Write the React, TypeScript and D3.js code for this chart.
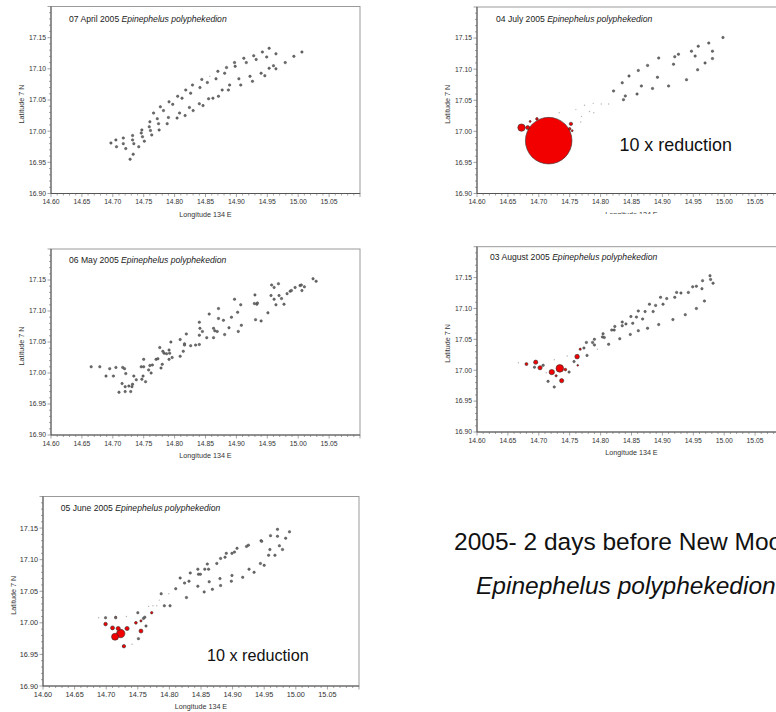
import React from 'react';
import * as d3 from 'd3';

type Pt = [number, number, number | null];

// ---------- data ----------
const lonTicks = [14.6, 14.65, 14.7, 14.75, 14.8, 14.85, 14.9, 14.95, 15.0, 15.05];
const latTicks = [16.9, 16.95, 17.0, 17.05, 17.1, 17.15];
const lonDomain: [number, number] = [14.6, 15.1];
const latDomain: [number, number] = [16.9, 17.2];
const species = 'Epinephelus polyphekedion';
const panelDates = ['07 April 2005', '06 May 2005', '05 June 2005', '04 July 2005', '03 August 2005'];
const panelReductions = [1, 1, 10, 10, 1];
const xAxisTitle = 'Longitude 134 E';
const yAxisTitle = 'Latitude 7 N';
const reductionNote = '10 x reduction';
const captionLine1 = '2005- 2 days before New Moon';
const captionLine2 = 'Epinephelus polyphekedion';

// [longitude, latitude, catch value (0 = none, null = not fished)]
const aprilPoints: Pt[] = [
  [14.697, 16.981, 0], [14.705, 16.986, 0], [14.706, 16.975, 0], [14.717, 16.989, 0], [14.717, 16.98, 0],
  [14.721, 16.972, 0], [14.732, 16.993, 0], [14.732, 16.986, 0], [14.734, 16.98, 0], [14.728, 16.955, 0],
  [14.733, 16.963, 0], [14.742, 16.975, 0], [14.746, 16.997, 0], [14.747, 17.002, 0], [14.748, 16.991, 0],
  [14.751, 16.984, 0], [14.759, 17.007, 0], [14.76, 17.015, 0], [14.761, 17.001, 0], [14.763, 16.994, 0],
  [14.766, 17.029, 0], [14.772, 17.02, 0], [14.774, 17.012, 0], [14.775, 17.002, 0], [14.777, 17.039, 0],
  [14.782, 17.033, 0], [14.788, 17.012, 0], [14.79, 17.022, 0], [14.791, 17.047, 0], [14.797, 17.043, 0],
  [14.804, 17.021, 0], [14.805, 17.056, 0], [14.808, 17.029, 0], [14.812, 17.053, 0], [14.817, 17.025, 0],
  [14.818, 17.066, 0], [14.824, 17.038, 0], [14.826, 17.061, 0], [14.829, 17.074, 0], [14.83, 17.033, 0],
  [14.84, 17.044, 0], [14.841, 17.07, 0], [14.844, 17.083, 0], [14.846, 17.041, 0], [14.853, 17.078, 0],
  [14.855, 17.052, 0], [14.862, 17.053, 0], [14.867, 17.084, 0], [14.87, 17.096, 0], [14.871, 17.056, 0],
  [14.877, 17.066, 0], [14.881, 17.093, 0], [14.884, 17.102, 0], [14.887, 17.066, 0], [14.889, 17.074, 0],
  [14.897, 17.11, 0], [14.898, 17.104, 0], [14.904, 17.084, 0], [14.907, 17.074, 0], [14.912, 17.117, 0],
  [14.916, 17.11, 0], [14.922, 17.088, 0], [14.926, 17.08, 0], [14.928, 17.121, 0], [14.932, 17.115, 0],
  [14.94, 17.093, 0], [14.942, 17.127, 0], [14.946, 17.089, 0], [14.949, 17.119, 0], [14.953, 17.133, 0],
  [14.953, 17.101, 0], [14.96, 17.105, 0], [14.964, 17.1, 0], [14.964, 17.124, 0], [14.979, 17.11, 0],
  [14.993, 17.12, 0], [15.006, 17.127, 0], [14.857, 17.088, null],
];

const mayPoints: Pt[] = [
  [14.665, 17.01, 0], [14.679, 17.01, 0], [14.689, 16.995, 0], [14.695, 17.007, 0], [14.701, 16.995, 0],
  [14.705, 17.009, 0], [14.716, 17.009, 0], [14.719, 17.007, 0], [14.721, 16.999, 0], [14.715, 16.983, 0],
  [14.72, 16.978, 0], [14.726, 16.979, 0], [14.732, 16.982, 0], [14.731, 16.978, 0], [14.71, 16.969, 0],
  [14.72, 16.97, 0], [14.729, 16.97, 0], [14.734, 16.995, 0], [14.738, 16.989, 0], [14.747, 16.99, 0],
  [14.749, 16.995, 0], [14.753, 16.986, 0], [14.746, 17.01, 0], [14.75, 17.01, 0], [14.75, 17.022, 0],
  [14.758, 17.005, 0], [14.76, 17.012, 0], [14.762, 17.0, 0], [14.764, 17.013, 0], [14.77, 17.022, 0],
  [14.773, 17.023, 0], [14.778, 17.008, 0], [14.78, 17.014, 0], [14.776, 17.041, 0], [14.781, 17.035, 0],
  [14.783, 17.032, 0], [14.787, 17.031, 0], [14.791, 17.037, 0], [14.791, 17.022, 0], [14.792, 17.032, 0],
  [14.796, 17.025, 0], [14.794, 17.05, 0], [14.809, 17.054, 0], [14.809, 17.027, 0], [14.814, 17.035, 0],
  [14.816, 17.047, 0], [14.816, 17.045, 0], [14.819, 17.063, 0], [14.826, 17.044, 0], [14.834, 17.045, 0],
  [14.84, 17.046, 0], [14.84, 17.061, 0], [14.841, 17.072, 0], [14.84, 17.082, 0], [14.845, 17.067, 0],
  [14.852, 17.057, 0], [14.856, 17.095, 0], [14.863, 17.072, 0], [14.863, 17.057, 0], [14.865, 17.068, 0],
  [14.869, 17.067, 0], [14.871, 17.104, 0], [14.871, 17.088, 0], [14.879, 17.085, 0], [14.881, 17.062, 0],
  [14.888, 17.073, 0], [14.892, 17.09, 0], [14.897, 17.119, 0], [14.902, 17.098, 0], [14.903, 17.067, 0],
  [14.907, 17.11, 0], [14.908, 17.077, 0], [14.93, 17.126, 0], [14.929, 17.112, 0], [14.933, 17.111, 0],
  [14.934, 17.113, 0], [14.931, 17.086, 0], [14.94, 17.084, 0], [14.951, 17.097, 0], [14.956, 17.125, 0],
  [14.957, 17.142, 0], [14.961, 17.138, 0], [14.961, 17.119, 0], [14.964, 17.11, 0], [14.968, 17.144, 0],
  [14.969, 17.125, 0], [14.973, 17.12, 0], [14.977, 17.111, 0], [14.982, 17.128, 0], [14.987, 17.132, 0],
  [14.989, 17.133, 0], [14.995, 17.138, 0], [15.003, 17.141, 0], [15.006, 17.133, 0], [15.005, 17.142, 0],
  [15.01, 17.139, 0], [15.024, 17.152, 0], [15.029, 17.148, 0],
];

const junePoints: Pt[] = [
  [14.971, 17.148, 0], [14.99, 17.144, 0], [14.96, 17.138, 0], [14.971, 17.137, 0], [14.984, 17.134, 0],
  [14.945, 17.13, 0], [14.946, 17.129, 0], [14.925, 17.123, 0], [14.922, 17.121, 0], [14.907, 17.118, 0],
  [14.903, 17.112, 0], [14.89, 17.11, 0], [14.899, 17.11, 0], [14.888, 17.104, 0], [14.881, 17.102, 0],
  [14.875, 17.094, 0], [14.86, 17.093, 0], [14.856, 17.085, 0], [14.862, 17.085, 0], [14.845, 17.085, 0],
  [14.833, 17.079, 0], [14.846, 17.077, 0], [14.849, 17.077, 0], [14.817, 17.071, 0], [14.831, 17.066, 0],
  [14.824, 17.063, 0], [14.81, 17.054, 0], [14.787, 17.046, 0], [14.827, 17.04, 0], [14.792, 17.027, 0],
  [14.801, 17.027, 0], [14.974, 17.122, 0], [14.979, 17.116, 0], [14.959, 17.116, 0], [14.967, 17.107, 0],
  [14.957, 17.107, 0], [14.944, 17.094, 0], [14.95, 17.091, 0], [14.926, 17.085, 0], [14.934, 17.08, 0],
  [14.899, 17.075, 0], [14.916, 17.072, 0], [14.898, 17.066, 0], [14.88, 17.07, 0], [14.863, 17.065, 0],
  [14.881, 17.059, 0], [14.845, 17.058, 0], [14.868, 17.053, 0], [14.855, 17.049, 0],
  [14.699, 17.008, 0], [14.715, 17.008, 0], [14.75, 17.016, 0], [14.759, 17.007, 0], [14.763, 16.995, 0],
  [14.751, 16.975, 0], [14.761, 17.009, 0],
  [14.688, 17.008, null], [14.732, 17.01, null], [14.767, 17.026, null], [14.774, 17.027, null],
  [14.78, 17.027, null], [14.784, 17.036, null], [14.799, 17.046, null], [14.741, 16.966, null],
  [14.699, 16.998, 130], [14.71, 16.992, 160], [14.719, 16.991, 176], [14.733, 16.991, 176],
  [14.714, 16.978, 490], [14.723, 16.983, 706], [14.728, 16.963, 116], [14.755, 16.987, 160],
  [14.747, 17.0, 78], [14.755, 17.003, 48], [14.772, 17.016, 58], [14.715, 17.009, 40],
];

const julyPoints: Pt[] = [
  [14.998, 17.151, 0], [14.975, 17.142, 0], [14.958, 17.137, 0], [14.947, 17.129, 0], [14.981, 17.129, 0],
  [14.953, 17.121, 0], [14.981, 17.117, 0], [14.969, 17.11, 0], [14.957, 17.099, 0], [14.939, 17.083, 0],
  [14.926, 17.124, 0], [14.92, 17.12, 0], [14.918, 17.108, 0], [14.894, 17.118, 0], [14.892, 17.087, 0],
  [14.876, 17.106, 0], [14.861, 17.098, 0], [14.846, 17.089, 0], [14.866, 17.073, 0], [14.835, 17.078, 0],
  [14.821, 17.065, 0], [14.84, 17.057, 0], [14.837, 17.051, 0], [14.859, 17.06, 0], [14.884, 17.069, 0],
  [14.91, 17.073, 0],
  [14.733, 17.03, null], [14.76, 17.035, null], [14.769, 17.024, null], [14.774, 17.042, null],
  [14.782, 17.032, null], [14.789, 17.03, null], [14.788, 17.045, null], [14.801, 17.044, null],
  [14.813, 17.044, null], [14.768, 17.015, null],
  [14.716, 16.985, 21700], [14.672, 17.006, 548], [14.682, 17.006, 160], [14.697, 17.02, 68],
  [14.686, 17.016, 40], [14.752, 17.012, 116], [14.75, 17.004, 68], [14.754, 17.001, 40],
];

const augustPoints: Pt[] = [
  [14.977, 17.153, 0], [14.978, 17.147, 0], [14.982, 17.141, 0], [14.965, 17.145, 0], [14.955, 17.136, 0],
  [14.949, 17.135, 0], [14.964, 17.132, 0], [14.942, 17.126, 0], [14.93, 17.125, 0], [14.923, 17.126, 0],
  [14.92, 17.118, 0], [14.907, 17.116, 0], [14.897, 17.118, 0], [14.901, 17.107, 0], [14.889, 17.105, 0],
  [14.879, 17.107, 0], [14.885, 17.095, 0], [14.872, 17.095, 0], [14.868, 17.083, 0], [14.861, 17.096, 0],
  [14.858, 17.086, 0], [14.849, 17.087, 0], [14.852, 17.076, 0], [14.841, 17.075, 0], [14.835, 17.078, 0],
  [14.835, 17.072, 0], [14.823, 17.071, 0], [14.822, 17.065, 0], [14.818, 17.065, 0], [14.804, 17.059, 0],
  [14.803, 17.054, 0], [14.806, 17.053, 0], [14.79, 17.05, 0], [14.787, 17.045, 0], [14.79, 17.041, 0],
  [14.777, 17.045, 0], [14.773, 17.036, 0], [14.778, 17.024, 0], [14.813, 17.042, 0], [14.831, 17.051, 0],
  [14.848, 17.058, 0], [14.861, 17.064, 0], [14.876, 17.068, 0], [14.894, 17.074, 0], [14.917, 17.082, 0],
  [14.937, 17.09, 0], [14.955, 17.1, 0], [14.968, 17.112, 0],
  [14.693, 17.005, 0], [14.707, 17.008, 0], [14.715, 16.982, 0], [14.725, 16.973, 0], [14.749, 16.997, 0],
  [14.757, 17.014, 0],
  [14.667, 17.012, null], [14.712, 16.996, null], [14.725, 17.017, null], [14.746, 17.023, null],
  [14.795, 17.034, null],
  [14.68, 17.01, 9], [14.695, 17.013, 18], [14.702, 17.004, 18], [14.721, 16.997, 29],
  [14.734, 17.003, 58], [14.743, 17.001, 7], [14.737, 16.983, 18], [14.762, 17.022, 21],
  [14.767, 17.034, 5], [14.728, 16.991, 5], [14.763, 17.008, 3],
];

const panelPoints = [aprilPoints, mayPoints, junePoints, julyPoints, augustPoints];

// ---------- layout ----------
type Layout = {
  x: number; y: number; w: number; h: number;
  tdx: number; tdy: number; font: number;
  clip?: { x: number; y: number; w: number; h: number };
  note?: { x: number; y: number; size: number };
};

const layouts: Layout[] = [
  { x: 51, y: 6.5, w: 309, h: 187, tdx: 18, tdy: 15.5, font: 6.8 },
  { x: 51, y: 249, w: 309, h: 186, tdx: 18, tdy: 13.5, font: 6.8 },
  { x: 43, y: 496.5, w: 316, h: 189.5, tdx: 17.7, tdy: 14.2, font: 7.3, note: { x: 207, y: 661, size: 16.2 } },
  { x: 477, y: 7, w: 309, h: 186.5, tdx: 19, tdy: 15, font: 6.8, clip: { x: 380, y: 0, w: 400, h: 214 }, note: { x: 619.5, y: 151, size: 17.9 } },
  { x: 477, y: 246.7, w: 309, h: 185.3, tdx: 13, tdy: 13.6, font: 6.8 },
];

const FONT = "'Liberation Sans', Arial, Helvetica, sans-serif";

function Panel({ idx }: { idx: number }) {
  const L = layouts[idx];
  const pts = panelPoints[idx];
  const reduction = panelReductions[idx];
  const x = d3.scaleLinear().domain(lonDomain).range([L.x, L.x + L.w]);
  const y = d3.scaleLinear().domain(latDomain).range([L.y + L.h, L.y]);
  const r = d3.scaleSqrt().domain([0, 1]).range([0, 0.5]);
  const minorX = d3.range(0, 51).map((i) => 14.6 + i * 0.01);
  const minorY = d3.range(0, 31).map((i) => 16.9 + i * 0.01);
  const sorted = [...pts].sort((a, b) => (b[2] ?? -1) - (a[2] ?? -1));
  const bottom = L.y + L.h;
  const clipId = `clip-${idx}`;
  return (
    <g clipPath={L.clip ? `url(#${clipId})` : undefined}>
      {L.clip && (
        <defs>
          <clipPath id={clipId}>
            <rect x={L.clip.x} y={L.clip.y} width={L.clip.w} height={L.clip.h} />
          </clipPath>
        </defs>
      )}
      <rect x={L.x} y={L.y} width={L.w} height={L.h} fill="#fff" stroke="#9a9a9a" strokeWidth={1} />
      <line x1={L.x} x2={L.x} y1={L.y} y2={bottom} stroke="#555" strokeWidth={1} />
      <line x1={L.x} x2={L.x + L.w} y1={bottom} y2={bottom} stroke="#555" strokeWidth={1} />
      {minorX.map((v, i) => (
        <line key={`mx${i}`} x1={x(v)} x2={x(v)} y1={bottom} y2={bottom + (i % 5 === 0 ? 3.5 : 2)} stroke="#666" strokeWidth={0.6} />
      ))}
      {minorY.map((v, i) => (
        <line key={`my${i}`} x1={L.x} x2={L.x - (i % 5 === 0 ? 3.5 : 2)} y1={y(v)} y2={y(v)} stroke="#666" strokeWidth={0.6} />
      ))}
      {lonTicks.map((t) => (
        <text key={`xl${t}`} x={x(t)} y={bottom + 10.5} fontSize={L.font} textAnchor="middle" fill="#333" fontFamily={FONT}>
          {t.toFixed(2)}
        </text>
      ))}
      {latTicks.map((t) => (
        <text key={`yl${t}`} x={L.x - 5} y={y(t)} dy="0.35em" fontSize={L.font} textAnchor="end" fill="#333" fontFamily={FONT}>
          {t.toFixed(2)}
        </text>
      ))}
      <text x={L.x + L.w / 2} y={bottom + 23} fontSize={7.2} textAnchor="middle" fill="#333" fontFamily={FONT}>
        {xAxisTitle}
      </text>
      <text
        transform={`translate(${L.x - 27},${L.y + L.h / 2 + 4}) rotate(-90)`}
        fontSize={7.2}
        textAnchor="middle"
        fill="#333"
        fontFamily={FONT}
      >
        {yAxisTitle}
      </text>
      <text x={L.x + L.tdx} y={L.y + L.tdy} fontSize={8.6} fill="#222" fontFamily={FONT}>
        {panelDates[idx]} <tspan fontStyle="italic">{species}</tspan>
      </text>
      {sorted.map((p, i) => {
        const v = p[2];
        const cx = x(p[0]);
        const cy = y(p[1]);
        if (v === null) return <circle key={i} cx={cx} cy={cy} r={0.7} fill="#b5b5b5" />;
        if (v === 0) return <circle key={i} cx={cx} cy={cy} r={1.25} fill="#6e6e6e" stroke="#333" strokeWidth={0.4} />;
        return <circle key={i} cx={cx} cy={cy} r={r(v / reduction)} fill="#f20000" stroke="#333" strokeWidth={0.6} />;
      })}
      {L.note && (
        <text x={L.note.x} y={L.note.y} fontSize={L.note.size} fill="#111" fontFamily={FONT}>
          {reductionNote}
        </text>
      )}
    </g>
  );
}

export default function App() {
  return (
    <svg
      width={776}
      height={712}
      viewBox="0 0 776 712"
      style={{ position: 'absolute', left: 0, top: 0, display: 'block', background: '#fff' }}
    >
      <rect x={0} y={0} width={776} height={712} fill="#fff" />
      {layouts.map((_, i) => (
        <Panel key={i} idx={i} />
      ))}
      <text x={454} y={550} fontSize={24.5} fill="#111" fontFamily={FONT}>
        {captionLine1}
      </text>
      <text x={476} y={594} fontSize={24.5} fill="#111" fontStyle="italic" fontFamily={FONT}>
        {captionLine2}
      </text>
    </svg>
  );
}
